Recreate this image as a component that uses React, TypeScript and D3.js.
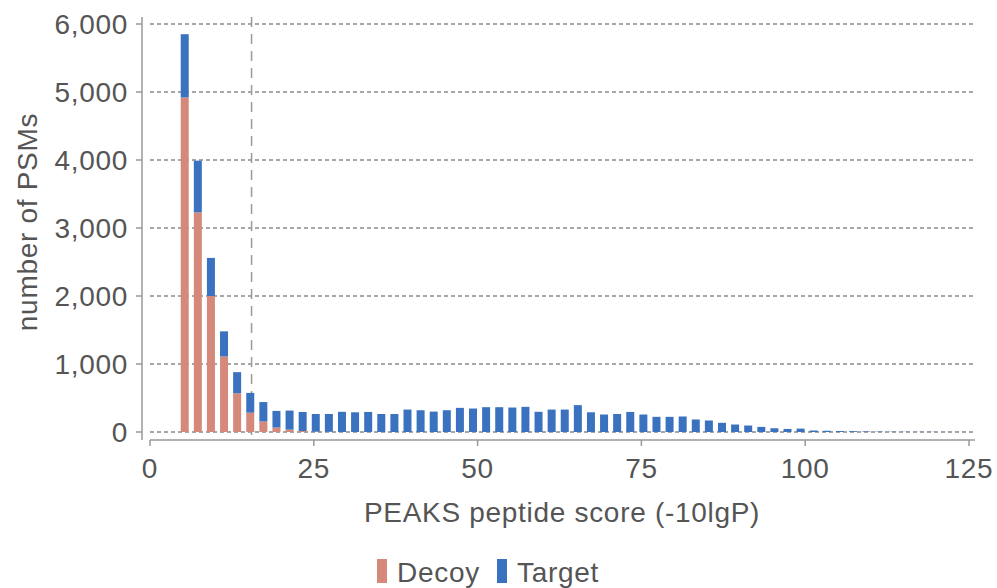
import React from 'react';
import * as d3 from 'd3';

// histogram bins (PEAKS -10lgP score), bin centres
const binCenters = [
  5.3, 7.3, 9.3, 11.3, 13.3, 15.3, 17.3, 19.3, 21.3, 23.3,
  25.3, 27.3, 29.3, 31.3, 33.3, 35.3, 37.3, 39.3, 41.3, 43.3,
  45.3, 47.3, 49.3, 51.3, 53.3, 55.3, 57.3, 59.3, 61.3, 63.3,
  65.3, 67.3, 69.3, 71.3, 73.3, 75.3, 77.3, 79.3, 81.3, 83.3,
  85.3, 87.3, 89.3, 91.3, 93.3, 95.3, 97.3, 99.3, 101.3, 103.3,
  105.3, 107.3, 109.3, 111.3, 113.3, 115.3, 117.3, 119.3, 121.3, 123.3,
  125.3,
];

const decoy = [
  4920, 3230, 2000, 1110, 570, 285, 155, 65, 35, 15,
  5, 3, 0, 0, 0, 0, 0, 0, 0, 0,
  0, 0, 0, 0, 0, 0, 0, 0, 0, 0,
  0, 0, 0, 0, 0, 0, 0, 0, 0, 0,
  0, 0, 0, 0, 0, 0, 0, 0, 0, 0,
  0, 0, 0, 0, 0, 0, 0, 0, 0, 0,
  0,
];

const target = [
  930, 760, 560, 370, 310, 290, 285, 245, 280, 280,
  260, 262, 297, 290, 295, 265, 265, 330, 320, 300,
  320, 355, 345, 365, 365, 360, 370, 297, 330, 330,
  395, 290, 257, 265, 295, 257, 223, 223, 228, 184,
  169, 135, 110, 95, 75, 55, 45, 50, 22, 18,
  14, 12, 8, 5, 4, 3, 2, 2, 1, 1,
  0,
];

const yTicks = [0, 1000, 2000, 3000, 4000, 5000, 6000];
const xTicks = [0, 25, 50, 75, 100, 125];
const threshold = 15.5;

const series = [
  { name: 'Decoy', values: decoy, color: '#d4897a' },
  { name: 'Target', values: target, color: '#3a72bf' },
];

const W = 997;
const H = 588;
const font = '"Liberation Sans", Arial, sans-serif';
const textColor = '#555';
const axisColor = '#999';
const fs = 28;
const ls = 0.7;

export default function App() {
  const x = d3.scaleLinear().domain([0, 125]).range([150, 969]);
  const y = d3.scaleLinear().domain([0, 6000]).range([432, 24]);
  const barW = 8;

  const rows = binCenters.map((c, i) => ({ c, Decoy: decoy[i], Target: target[i] }));
  const stacked = d3.stack<any>().keys(series.map(s => s.name))(rows);
  const fmt = d3.format(',');

  return (
    <div>
      <style>{`body{margin:0}`}</style>
      <svg width={W} height={H} style={{ display: 'block', fontFamily: font, letterSpacing: ls }}>
        {/* grid */}
        {yTicks.map(t => (
          <line key={'g' + t} x1={150} x2={975} y1={y(t)} y2={y(t)}
            stroke="#8a8a8a" strokeWidth={1.3} strokeDasharray="4,3" />
        ))}
        <line x1={x(threshold)} x2={x(threshold)} y1={17} y2={440}
          stroke="#9a9a9a" strokeWidth={1.5} strokeDasharray="10,7" />

        {/* bars */}
        {stacked.map((layer, li) => (
          <g key={layer.key} fill={series[li].color}>
            {layer.map((d, i) => (d[1] - d[0] > 0 ? (
              <rect key={i} x={x(binCenters[i]) - barW / 2} width={barW}
                y={y(d[1])} height={y(d[0]) - y(d[1])} />
            ) : null))}
          </g>
        ))}

        {/* y axis */}
        <line x1={142} x2={142} y1={17} y2={440} stroke={axisColor} strokeWidth={1.5} />
        {yTicks.map(t => (
          <g key={'y' + t}>
            <line x1={136} x2={142} y1={y(t)} y2={y(t)} stroke={axisColor} strokeWidth={1.5} />
            <text x={128} y={y(t)} dy="0.35em" textAnchor="end" fontSize={fs} fill={textColor}>{fmt(t)}</text>
          </g>
        ))}
        <text transform="translate(27,222) rotate(-90)" textAnchor="middle" dy="0.35em"
          fontSize={fs} fill={textColor}>number of PSMs</text>

        {/* x axis */}
        <line x1={150} x2={975} y1={440} y2={440} stroke={axisColor} strokeWidth={1.5} />
        {xTicks.map(t => (
          <g key={'x' + t}>
            <line x1={x(t)} x2={x(t)} y1={440} y2={446} stroke={axisColor} strokeWidth={1.5} />
            <text x={x(t)} y={468} dy="0.35em" textAnchor="middle" fontSize={fs} fill={textColor}>{t}</text>
          </g>
        ))}
        <text x={562} y={512} dy="0.35em" textAnchor="middle" fontSize={fs} fill={textColor}>
          PEAKS peptide score (-10lgP)
        </text>

        {/* legend */}
        {series.map((s, i) => {
          const lx = i === 0 ? 377 : 497;
          return (
            <g key={s.name}>
              <rect x={lx} y={559} width={10} height={24} fill={s.color} />
              <text x={lx + 20} y={572} dy="0.35em" fontSize={fs} fill={textColor}>{s.name}</text>
            </g>
          );
        })}
      </svg>
    </div>
  );
}
